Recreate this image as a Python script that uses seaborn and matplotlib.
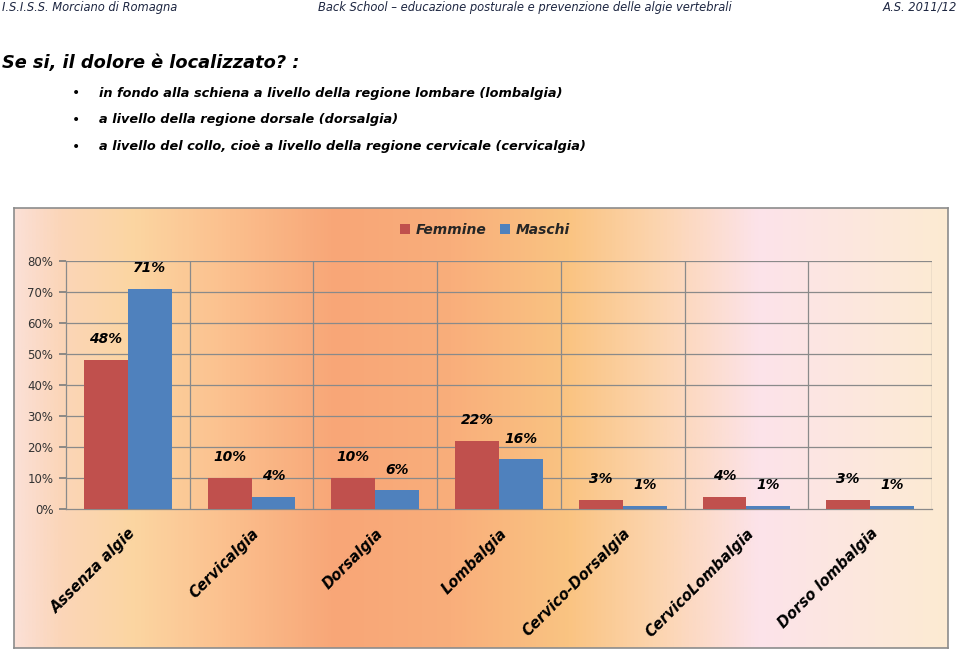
import numpy as np
import pandas as pd
import matplotlib
matplotlib.use("Agg")
import matplotlib.pyplot as plt
from matplotlib.colors import LinearSegmentedColormap
from matplotlib.patches import Patch
import seaborn as sns

# ---- data ----
categories = ["Assenza algie", "Cervicalgia", "Dorsalgia", "Lombalgia",
              "Cervico-Dorsalgia", "CervicoLombalgia", "Dorso lombalgia"]
femmine = [48, 10, 10, 22, 3, 4, 3]
maschi = [71, 4, 6, 16, 1, 1, 1]
series_names = ["Femmine", "Maschi"]
y_ticks = [0, 10, 20, 30, 40, 50, 60, 70, 80]

header_left = "I.S.I.S.S. Morciano di Romagna"
header_center = "Back School \u2013 educazione posturale e prevenzione delle algie vertebrali"
header_right = "A.S. 2011/12"
title = "Se si, il dolore è localizzato? :"
bullets = ["in fondo alla schiena a livello della regione lombare (lombalgia)",
           "a livello della regione dorsale (dorsalgia)",
           "a livello del collo, cioè a livello della regione cervicale (cervicalgia)"]

df = pd.DataFrame({
    "cat": categories * 2,
    "val": femmine + maschi,
    "sex": [series_names[0]] * len(categories) + [series_names[1]] * len(categories),
})

sns.set_theme(style="white")
plt.rcParams["font.family"] = ["DejaVu Sans"]

W, H = 959, 655
fig = plt.figure(figsize=(W / 100, H / 100), dpi=100)
fig.patch.set_facecolor("white")

def fx(px):
    return px / W

def fy(py):
    return 1 - py / H

# header
hc = "#1e2742"
fig.text(fx(2), fy(7), header_left, fontsize=8.3, style="italic", color=hc, va="center", ha="left")
fig.text(fx(318), fy(7), header_center, fontsize=8.3, style="italic", color=hc, va="center", ha="left")
fig.text(fx(957), fy(7), header_right, fontsize=8.3, style="italic", color=hc, va="center", ha="right")

# title & bullets
fig.text(fx(2), fy(63), title, fontsize=12.8, style="italic", weight="bold", color="black", va="center", ha="left")
for i, b in enumerate(bullets):
    yy = 93 + i * 27
    fig.text(fx(76), fy(yy), "\u2022", fontsize=10, color="black", va="center", ha="center")
    fig.text(fx(99), fy(yy), b, fontsize=9.3, style="italic", weight="bold", color="black", va="center", ha="left")

# chart background box with gradient
bx0, by0, bx1, by1 = 14, 208, 948, 648
bg = fig.add_axes([fx(bx0), fy(by1), fx(bx1 - bx0), (by1 - by0) / H])
stops = [(14, "#fbe0d6"), (60, "#fbd5b8"), (130, "#fcd6a2"), (230, "#fbbf8d"),
         (335, "#f8a677"), (450, "#f9ae7b"), (570, "#fac482"), (660, "#fcd5b0"),
         (760, "#fce3ea"), (948, "#fdebd2")]
pos = [(p - bx0) / (bx1 - bx0) for p, _ in stops]
cmap = LinearSegmentedColormap.from_list("bgg", list(zip(pos, [c for _, c in stops])))
grad = np.linspace(0, 1, 512).reshape(1, -1)
bg.imshow(grad, aspect="auto", cmap=cmap, extent=[0, 1, 0, 1])
bg.set_xlim(0, 1)
bg.set_ylim(0, 1)
bg.set_xticks([])
bg.set_yticks([])
for s in bg.spines.values():
    s.set_color("#8c8c8c")
    s.set_linewidth(1.2)

# main plot
ax0, ay0, ax1, ay1 = 66, 261, 932, 509
ax = fig.add_axes([fx(ax0), fy(ay1), fx(ax1 - ax0), (ay1 - ay0) / H])
ax.patch.set_alpha(0)
red, blue = "#c0504d", "#4f81bd"
sns.barplot(data=df, x="cat", y="val", hue="sex", palette=[red, blue],
            width=0.71, saturation=1, ax=ax, legend=False, zorder=3,
            linewidth=0, edgecolor="none")

ax.set_xlim(-0.5, len(categories) - 0.5)
ax.set_ylim(0, 80)
ax.set_yticks(y_ticks)
ax.set_yticklabels([f"{v}%" for v in y_ticks], fontsize=8.5, color="#333333")
ax.set_xlabel("")
ax.set_ylabel("")

ax.set_xticks(np.arange(len(categories)))
ax.set_xticklabels(categories, rotation=45, ha="right", rotation_mode="anchor",
                   fontsize=10.5, weight="bold", style="italic", color="black")
ax.tick_params(axis="x", which="major", length=0, pad=12)
ax.set_xticks(np.arange(-0.5, len(categories) + 0.5, 1), minor=True)
ax.tick_params(axis="x", which="minor", length=6, color="#7f7f7f", direction="out")
ax.tick_params(axis="y", length=5, color="#7f7f7f", direction="out", pad=4, left=True)

gc = "#8a8a8a"
for v in y_ticks[1:]:
    ax.axhline(v, color=gc, lw=0.9, zorder=1)
for xv in np.arange(0.5, len(categories) - 0.5, 1):
    ax.axvline(xv, color=gc, lw=0.9, zorder=1)
ax.axvline(len(categories) - 0.5, color=gc, lw=0.9, zorder=1)

for s in ["top", "right"]:
    ax.spines[s].set_visible(False)
ax.spines["left"].set_color(gc)
ax.spines["bottom"].set_color(gc)
ax.spines["left"].set_linewidth(0.9)
ax.spines["bottom"].set_linewidth(0.9)

for cont in ax.containers:
    labels = [f"{int(round(b.get_height()))}%" for b in cont]
    ax.bar_label(cont, labels=labels, padding=10, fontsize=10, weight="bold",
                 style="italic", color="black")

# legend
handles = [Patch(facecolor=red, edgecolor="none"), Patch(facecolor=blue, edgecolor="none")]
leg = fig.legend(handles, series_names, loc="center", bbox_to_anchor=(fx(485), fy(230)),
                 ncol=2, frameon=False, prop={"size": 10, "weight": "bold", "style": "italic"},
                 handlelength=0.7, handleheight=0.7, handletextpad=0.4, columnspacing=1.0)

fig.savefig("out.png", dpi=100)
